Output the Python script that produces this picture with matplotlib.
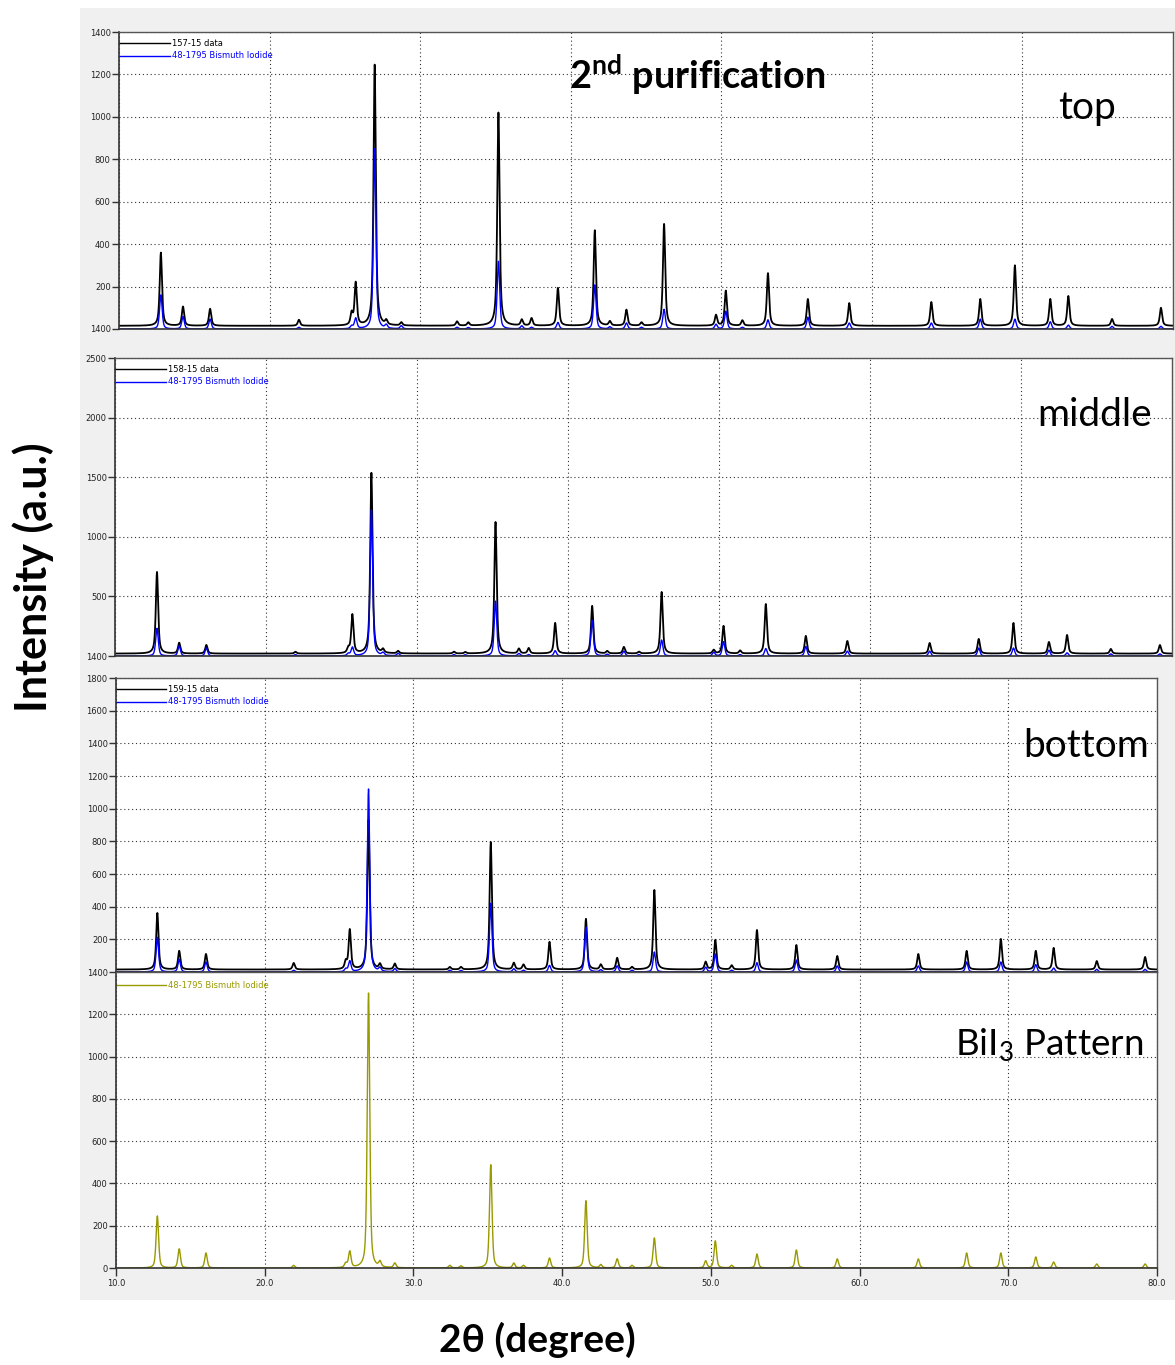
import numpy as np
import matplotlib
matplotlib.use("Agg")
import matplotlib.pyplot as plt
from matplotlib.patches import Rectangle

plt.rcParams['mathtext.fontset'] = 'custom'
plt.rcParams['mathtext.rm'] = 'Lato'
plt.rcParams['mathtext.bf'] = 'Lato:bold'

W, H = 1175, 1365

# ---- data -------------------------------------------------------------
# Reference card 48-1795 (Bismuth Iodide): peak positions (2-theta) and intensities
ref_pos = [12.78, 14.25, 16.05, 21.95, 25.45, 25.72, 26.98, 27.75, 28.75, 32.45,
           33.2, 35.2, 36.75, 37.4, 39.15, 41.6, 42.6, 43.7, 44.7, 46.2,
           49.65, 50.3, 51.4, 53.1, 55.75, 58.5, 63.95, 67.2, 69.5, 71.85,
           73.05, 75.95, 79.2]
ref_int = [246, 90, 71, 12, 20, 76, 1300, 25, 22, 12,
           10, 488, 22, 12, 47, 318, 15, 43, 12, 142,
           33, 128, 12, 66, 85, 43, 43, 71, 71, 52,
           28, 19, 19]

# Measured samples: net peak heights at the same positions
top_int = [345, 90, 80, 28, 55, 200, 1230, 20, 15, 20,
           15, 1005, 28, 35, 178, 450, 20, 75, 15, 480,
           50, 165, 25, 248, 126, 107, 112, 126, 285, 126,
           140, 32, 85]
middle_int = [685, 90, 72, 15, 40, 324, 1515, 30, 20, 15,
              12, 1104, 40, 45, 257, 400, 20, 55, 15, 517,
              30, 232, 25, 416, 148, 106, 89, 123, 257, 97,
              156, 39, 72]
bottom_int = [346, 114, 95, 40, 45, 242, 915, 30, 35, 15,
              15, 781, 40, 30, 169, 310, 30, 71, 15, 487,
              46, 181, 25, 242, 150, 83, 95, 114, 187, 114,
              132, 52, 77]

sample_names = ["157-15 data", "158-15 data", "159-15 data"]
sample_background = [15, 20, 15]
# height of the strongest reference line as overlaid in each sample panel
ref_overlay_max = [850, 1225, 1120]
ref_name = "48-1795 Bismuth Iodide"

panel_labels = ["top", "middle", "bottom"]
x_tick_labels = ["10.0", "20.0", "30.0", "40.0", "50.0", "60.0", "70.0", "80.0"]


def pattern(x, pos, hts, fwhm, eta):
    """Pseudo-Voigt profile built from a peak list."""
    y = np.zeros_like(x)
    hw = fwhm / 2.0
    for p, h in zip(pos, hts):
        u = ((x - p) / hw) ** 2
        y += h * (eta / (1.0 + u) + (1.0 - eta) * np.exp(-np.log(2) * u))
    return y


x = np.round(np.arange(10.0, 80.0001, 0.01), 2)

fig = plt.figure(figsize=(W / 100, H / 100), dpi=100)
fig.patches.append(Rectangle((80 / W, 1 - 1300 / H), (W - 80) / W, (1300 - 8) / H,
                             transform=fig.transFigure, facecolor='#f0f0f0',
                             edgecolor='none', zorder=-10))


def px_axes(left, top, right, bottom):
    return fig.add_axes([left / W, 1 - bottom / H, (right - left) / W, (bottom - top) / H])


def style(ax, xmax, ymax, yticks, ylabels, show_x=False):
    ax.set_xlim(10, xmax)
    ax.set_ylim(0, ymax)
    ax.set_xticks(np.arange(10, 81, 10))
    ax.set_yticks(yticks)
    ax.set_yticklabels(ylabels, fontsize=6, color='#222222')
    ax.grid(True, linestyle=(0, (1, 2.5)), color='#333333', linewidth=0.8)
    ax.set_axisbelow(True)
    ax.tick_params(axis='y', direction='out', length=5, width=1, color='#333333', pad=1)
    if show_x:
        ax.set_xticklabels(x_tick_labels, fontsize=6, color='#222222')
        ax.tick_params(axis='x', direction='out', length=6, width=1, color='#333333', pad=2)
    else:
        ax.tick_params(axis='x', length=0, labelbottom=False)
    for s in ['top', 'right']:
        ax.spines[s].set_color('#555555')
        ax.spines[s].set_linewidth(1.0)
    for s in ['left', 'bottom']:
        ax.spines[s].set_color('#333333')
        ax.spines[s].set_linewidth(1.2)


def legend_entry(ax, y, text, color):
    ax.plot([0, 0.048], [y, y], transform=ax.transAxes, color=color, lw=1.0, clip_on=False)
    ax.text(0.05, y, text, transform=ax.transAxes, color=color, fontsize=6,
            va='center', ha='left')


panel_boxes = [(119, 32, 1173, 329), (115, 358, 1172, 656), (116, 678, 1157, 972)]
panel_xmax = [79.8, 79.77, 80.0]
panel_ymax = [1400, 2500, 1800]
panel_ticks = [np.arange(0, 1401, 200), np.arange(0, 2501, 500), np.arange(0, 1801, 200)]
sample_ints = [top_int, middle_int, bottom_int]

ref_profile = pattern(x, ref_pos, ref_int, 0.20, 0.5)

for i in range(3):
    ax = px_axes(*panel_boxes[i])
    labels = ["1400"] + [str(v) for v in panel_ticks[i][1:]]
    style(ax, panel_xmax[i], panel_ymax[i], panel_ticks[i], labels)
    y_s = sample_background[i] + pattern(x, ref_pos, sample_ints[i], 0.18, 0.7)
    y_r = ref_profile * ref_overlay_max[i] / max(ref_int)
    ax.plot(x, y_s, color='black', lw=1.3)
    ax.plot(x, y_r, color='#0000ff', lw=1.0)
    legend_entry(ax, 0.962, sample_names[i], 'black')
    legend_entry(ax, 0.920, ref_name, '#0000ff')

# Reference pattern panel
ax4 = px_axes(116, 972, 1157, 1268)
style(ax4, 80.0, 1400, np.arange(0, 1201, 200),
      [str(v) for v in np.arange(0, 1201, 200)], show_x=True)
ax4.plot(x, ref_profile, color='#999900', lw=1.0)
legend_entry(ax4, 0.956, ref_name, '#999900')

# Annotations
fig.text(697 / W, 1 - 75 / H, r"2$^{\mathbf{nd}}$ purification", fontsize=27.3,
         fontweight='bold', family='Lato', ha='center', va='center')
fig.text(1058 / W, 1 - 108 / H, panel_labels[0], fontsize=28, family='Lato',
         ha='left', va='center')
fig.text(1037 / W, 1 - 415 / H, panel_labels[1], fontsize=28, family='Lato',
         ha='left', va='center')
fig.text(1023 / W, 1 - 746 / H, panel_labels[2], fontsize=28, family='Lato',
         ha='left', va='center')
fig.text(955 / W, 1 - 1045 / H, r"BiI$_3$ Pattern", fontsize=26.5, family='Lato',
         ha='left', va='center')

fig.text(33 / W, 1 - 577 / H, "Intensity (a.u.)", fontsize=31, fontweight='bold',
         family=['Lato', 'DejaVu Sans'], rotation=90, ha='center', va='center')
fig.text(537 / W, 1 - 1340 / H, "2\u03b8 (degree)", fontsize=28, fontweight='bold',
         family=['Lato', 'DejaVu Sans'], ha='center', va='center')

fig.savefig("out.png", dpi=100, facecolor='white')
